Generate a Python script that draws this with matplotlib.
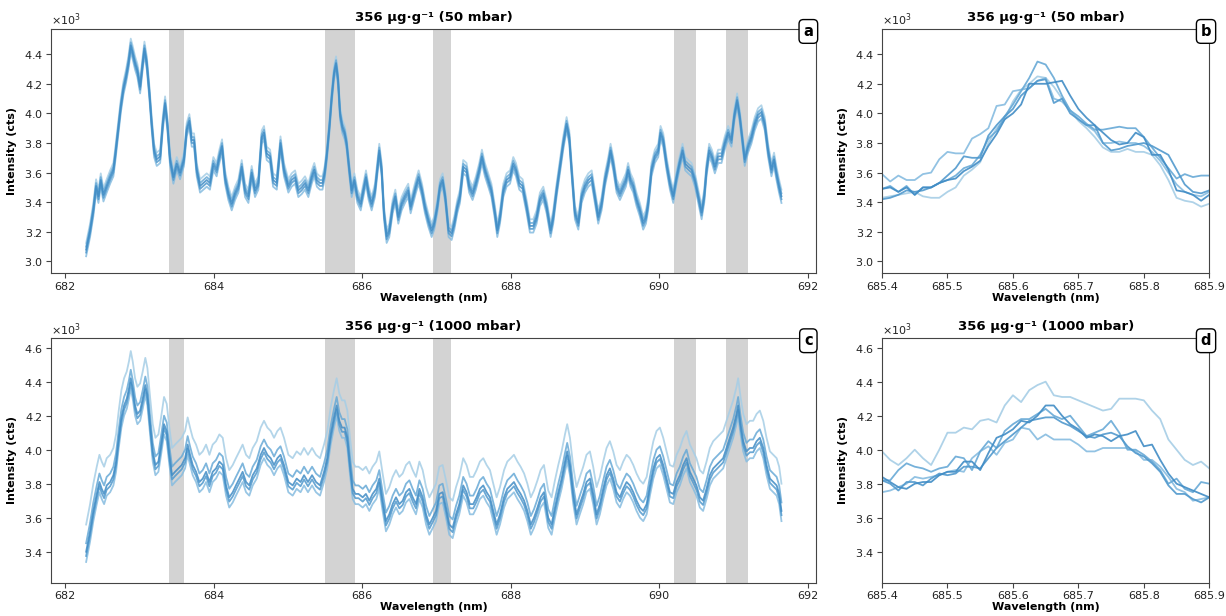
import numpy as np
import matplotlib
matplotlib.use("Agg")
import matplotlib.pyplot as plt

# ---------------- data (intensities in thousands of counts) ----------------
wl_a = [682.283, 682.336, 682.38, 682.417, 682.449, 682.48, 682.516, 682.56, 682.606, 682.65,
        682.673, 682.718, 682.75, 682.785, 682.82, 682.852, 682.884, 682.91, 682.942, 682.973,
        683.01, 683.04, 683.068, 683.10, 683.135, 683.166, 683.198, 683.234, 683.28, 683.315,
        683.346, 683.377, 683.413, 683.458, 683.503, 683.548, 683.60, 683.637, 683.673, 683.705,
        683.736, 683.772, 683.817, 683.862, 683.907, 683.95, 683.996, 684.04, 684.077, 684.113,
        684.153, 684.198, 684.243, 684.288, 684.333, 684.378, 684.423, 684.468, 684.512, 684.557,
        684.602, 684.647, 684.678, 684.714, 684.76, 684.80, 684.85, 684.90, 684.947, 685.006,
        685.05, 685.096, 685.14, 685.185, 685.23, 685.275, 685.32, 685.355, 685.39, 685.43,
        685.465, 685.495, 685.525, 685.558, 685.589, 685.62, 685.648, 685.675, 685.702, 685.733,
        685.764, 685.79, 685.827, 685.858, 685.894, 685.935, 685.98, 686.015, 686.051, 686.087,
        686.127, 686.172, 686.23, 686.262, 686.293, 686.329, 686.365, 686.41, 686.446, 686.486,
        686.531, 686.576, 686.62, 686.652, 686.688, 686.724, 686.76, 686.805, 686.845, 686.89,
        686.935, 686.97, 687.01, 687.047, 687.083, 687.118, 687.163, 687.204, 687.24, 687.28,
        687.316, 687.36, 687.405, 687.44, 687.486, 687.531, 687.576, 687.612, 687.652, 687.697,
        687.74, 687.787, 687.819, 687.855, 687.90, 687.944, 687.99, 688.034, 688.07, 688.115,
        688.16, 688.214, 688.258, 688.303, 688.348, 688.393, 688.438, 688.483, 688.537, 688.572,
        688.617, 688.662, 688.707, 688.752, 688.788, 688.82, 688.864, 688.91, 688.954, 688.999,
        689.044, 689.09, 689.133, 689.178, 689.223, 689.268, 689.313, 689.344, 689.38, 689.425,
        689.47, 689.514, 689.55, 689.58, 689.613, 689.65, 689.693, 689.738, 689.783, 689.82,
        689.85, 689.895, 689.94, 689.986, 690.017, 690.053, 690.098, 690.143, 690.188, 690.233,
        690.27, 690.313, 690.35, 690.39, 690.435, 690.48, 690.525, 690.57, 690.605, 690.636,
        690.672, 690.708, 690.748, 690.793, 690.838, 690.882, 690.927, 690.972, 691.008, 691.048,
        691.084, 691.12, 691.15, 691.196, 691.24, 691.285, 691.33, 691.375, 691.42, 691.465,
        691.51, 691.545, 691.576, 691.612, 691.645]
int_a = [3.08, 3.21, 3.35, 3.51, 3.44, 3.55, 3.45, 3.51, 3.57, 3.62,
         3.71, 3.91, 4.05, 4.17, 4.25, 4.34, 4.46, 4.41, 4.34, 4.29,
         4.18, 4.32, 4.44, 4.34, 4.14, 3.93, 3.75, 3.69, 3.71, 3.93,
         4.07, 3.93, 3.69, 3.57, 3.66, 3.60, 3.69, 3.89, 3.95, 3.82,
         3.82, 3.62, 3.51, 3.53, 3.55, 3.53, 3.66, 3.62, 3.71, 3.78,
         3.57, 3.46, 3.39, 3.46, 3.51, 3.64, 3.48, 3.44, 3.60, 3.48,
         3.53, 3.84, 3.87, 3.73, 3.71, 3.55, 3.53, 3.80, 3.62, 3.51,
         3.55, 3.57, 3.48, 3.50, 3.53, 3.48, 3.57, 3.62, 3.55, 3.53,
         3.53, 3.60, 3.73, 3.91, 4.11, 4.27, 4.34, 4.23, 4.00, 3.91,
         3.87, 3.80, 3.62, 3.48, 3.55, 3.44, 3.39, 3.48, 3.57, 3.46,
         3.39, 3.48, 3.75, 3.62, 3.33, 3.17, 3.21, 3.37, 3.44, 3.30,
         3.39, 3.44, 3.48, 3.37, 3.44, 3.51, 3.57, 3.48, 3.37, 3.28,
         3.21, 3.26, 3.37, 3.51, 3.55, 3.44, 3.21, 3.19, 3.26, 3.37,
         3.44, 3.64, 3.62, 3.51, 3.46, 3.53, 3.62, 3.71, 3.62, 3.55,
         3.48, 3.33, 3.21, 3.30, 3.48, 3.55, 3.57, 3.66, 3.62, 3.53,
         3.51, 3.37, 3.24, 3.24, 3.30, 3.42, 3.46, 3.37, 3.21, 3.30,
         3.48, 3.64, 3.80, 3.93, 3.84, 3.62, 3.33, 3.26, 3.44, 3.51,
         3.55, 3.57, 3.44, 3.30, 3.39, 3.55, 3.66, 3.75, 3.66, 3.51,
         3.46, 3.51, 3.55, 3.62, 3.55, 3.51, 3.42, 3.35, 3.26, 3.30,
         3.39, 3.62, 3.71, 3.75, 3.87, 3.82, 3.66, 3.53, 3.44, 3.57,
         3.66, 3.75, 3.66, 3.64, 3.62, 3.55, 3.44, 3.33, 3.44, 3.62,
         3.75, 3.71, 3.64, 3.71, 3.71, 3.80, 3.87, 3.82, 3.98, 4.09,
         3.98, 3.82, 3.69, 3.78, 3.84, 3.93, 3.99, 4.01, 3.93, 3.75,
         3.62, 3.69, 3.60, 3.51, 3.44]
offsets_a = [45, -45, 20, -20, 0]          # counts, replicate offsets (50 mbar)

wl_c = [682.283, 682.336, 682.38, 682.426, 682.462, 682.493, 682.525, 682.56, 682.606, 682.65,
        682.686, 682.722, 682.758, 682.794, 682.83, 682.86, 682.884, 682.91, 682.942, 682.973,
        683.01, 683.045, 683.08, 683.108, 683.144, 683.18, 683.216, 683.256, 683.292, 683.332,
        683.368, 683.404, 683.44, 683.48, 683.525, 683.57, 683.615, 683.65, 683.682, 683.718,
        683.763, 683.808, 683.853, 683.898, 683.943, 683.987, 684.032, 684.077, 684.122, 684.167,
        684.21, 684.257, 684.30, 684.346, 684.39, 684.436, 684.48, 684.526, 684.58, 684.633,
        684.678, 684.723, 684.768, 684.813, 684.858, 684.90, 684.947, 685.006, 685.064, 685.118,
        685.17, 685.217, 685.27, 685.325, 685.378, 685.432, 685.486, 685.53, 685.576, 685.62,
        685.656, 685.692, 685.728, 685.764, 685.80, 685.836, 685.872, 685.908, 685.95, 686.007,
        686.05, 686.096, 686.14, 686.19, 686.23, 686.275, 686.32, 686.365, 686.41, 686.455,
        686.50, 686.545, 686.59, 686.635, 686.68, 686.724, 686.77, 686.814, 686.86, 686.904,
        686.95, 686.994, 687.038, 687.083, 687.128, 687.173, 687.218, 687.263, 687.307, 687.36,
        687.405, 687.45, 687.495, 687.54, 687.585, 687.63, 687.675, 687.72, 687.765, 687.81,
        687.855, 687.91, 687.954, 688.0, 688.043, 688.09, 688.133, 688.18, 688.224, 688.27,
        688.313, 688.36, 688.402, 688.447, 688.505, 688.55, 688.595, 688.64, 688.685, 688.73,
        688.76, 688.797, 688.842, 688.886, 688.93, 688.976, 689.02, 689.066, 689.11, 689.156,
        689.2, 689.245, 689.29, 689.335, 689.38, 689.425, 689.47, 689.514, 689.56, 689.604,
        689.65, 689.694, 689.74, 689.784, 689.83, 689.874, 689.92, 689.963, 690.008, 690.053,
        690.098, 690.143, 690.188, 690.233, 690.277, 690.322, 690.367, 690.412, 690.457, 690.5,
        690.546, 690.59, 690.636, 690.681, 690.726, 690.77, 690.816, 690.86, 690.905, 690.95,
        690.995, 691.04, 691.062, 691.094, 691.13, 691.174, 691.22, 691.264, 691.31, 691.354,
        691.4, 691.444, 691.49, 691.534, 691.58, 691.614, 691.645]
int_c = [3.40, 3.52, 3.64, 3.74, 3.81, 3.77, 3.74, 3.79, 3.81, 3.85,
         3.93, 4.07, 4.19, 4.26, 4.30, 4.36, 4.42, 4.36, 4.26, 4.21,
         4.23, 4.30, 4.38, 4.32, 4.15, 3.99, 3.91, 3.93, 4.03, 4.15,
         4.11, 3.97, 3.85, 3.87, 3.89, 3.91, 3.95, 4.03, 3.97, 3.91,
         3.87, 3.81, 3.83, 3.87, 3.81, 3.87, 3.89, 3.93, 3.91, 3.79,
         3.72, 3.75, 3.79, 3.83, 3.87, 3.81, 3.79, 3.85, 3.89, 3.97,
         4.01, 3.97, 3.95, 3.91, 3.95, 3.97, 3.91, 3.81, 3.79, 3.83,
         3.81, 3.85, 3.81, 3.85, 3.81, 3.79, 3.87, 3.95, 4.09, 4.19,
         4.26, 4.17, 4.13, 4.13, 4.07, 3.91, 3.77, 3.74, 3.74, 3.72,
         3.74, 3.70, 3.74, 3.77, 3.83, 3.70, 3.58, 3.62, 3.68, 3.72,
         3.68, 3.70, 3.75, 3.77, 3.72, 3.68, 3.77, 3.72, 3.62, 3.56,
         3.60, 3.64, 3.74, 3.75, 3.66, 3.56, 3.54, 3.62, 3.68, 3.79,
         3.75, 3.68, 3.68, 3.72, 3.77, 3.79, 3.75, 3.72, 3.64, 3.56,
         3.62, 3.72, 3.77, 3.79, 3.81, 3.77, 3.74, 3.70, 3.64, 3.56,
         3.60, 3.66, 3.72, 3.75, 3.60, 3.56, 3.66, 3.75, 3.83, 3.93,
         3.99, 3.91, 3.74, 3.62, 3.68, 3.74, 3.81, 3.83, 3.74, 3.62,
         3.68, 3.77, 3.85, 3.89, 3.83, 3.75, 3.72, 3.77, 3.81, 3.79,
         3.75, 3.70, 3.66, 3.64, 3.68, 3.79, 3.89, 3.95, 3.97, 3.91,
         3.83, 3.75, 3.74, 3.81, 3.85, 3.91, 3.95, 3.87, 3.83, 3.79,
         3.72, 3.70, 3.77, 3.85, 3.89, 3.91, 3.93, 3.95, 4.01, 4.07,
         4.13, 4.21, 4.26, 4.15, 4.05, 3.99, 4.01, 4.01, 4.05, 4.07,
         4.01, 3.91, 3.83, 3.81, 3.79, 3.74, 3.64]
offsets_c = [160, -60, 50, -25, 0]         # counts, replicate offsets (1000 mbar)

wl_zoom = [685.4, 685.4125, 685.425, 685.4375, 685.45, 685.4625, 685.475, 685.4875, 685.5, 685.5125,
           685.525, 685.5375, 685.55, 685.5625, 685.575, 685.5875, 685.6, 685.6125, 685.625, 685.6375,
           685.65, 685.6625, 685.675, 685.6875, 685.7, 685.7125, 685.725, 685.7375, 685.75, 685.7625,
           685.775, 685.7875, 685.8, 685.8125, 685.825, 685.8375, 685.85, 685.8625, 685.875, 685.8875,
           685.9]
b_series = [
    [3.43, 3.44, 3.45, 3.46, 3.47, 3.44, 3.43, 3.43, 3.47, 3.50, 3.58, 3.62, 3.67, 3.80, 3.90, 3.96,
     4.08, 4.16, 4.20, 4.25, 4.24, 4.18, 4.10, 4.02, 3.95, 3.90, 3.84, 3.77, 3.74, 3.74, 3.76, 3.74,
     3.74, 3.72, 3.65, 3.55, 3.43, 3.41, 3.40, 3.37, 3.39],
    [3.59, 3.54, 3.58, 3.55, 3.55, 3.59, 3.60, 3.69, 3.74, 3.73, 3.73, 3.83, 3.86, 3.90, 4.05, 4.06,
     4.15, 4.16, 4.17, 4.22, 4.24, 4.10, 4.08, 4.02, 3.96, 3.92, 3.88, 3.80, 3.80, 3.81, 3.80, 3.80,
     3.78, 3.74, 3.68, 3.60, 3.52, 3.47, 3.45, 3.44, 3.47],
    [3.49, 3.51, 3.47, 3.51, 3.45, 3.50, 3.50, 3.53, 3.55, 3.58, 3.63, 3.65, 3.72, 3.83, 3.88, 3.98,
     4.06, 4.15, 4.24, 4.35, 4.33, 4.24, 4.12, 4.02, 3.98, 3.93, 3.89, 3.89, 3.90, 3.91, 3.90, 3.90,
     3.84, 3.77, 3.70, 3.63, 3.56, 3.59, 3.57, 3.58, 3.58],
    [3.42, 3.43, 3.45, 3.48, 3.47, 3.48, 3.50, 3.53, 3.58, 3.63, 3.71, 3.70, 3.70, 3.85, 3.92, 3.98,
     4.03, 4.12, 4.17, 4.22, 4.23, 4.07, 4.10, 4.00, 3.96, 3.92, 3.92, 3.80, 3.75, 3.76, 3.78, 3.79,
     3.80, 3.78, 3.75, 3.72, 3.62, 3.52, 3.47, 3.46, 3.48],
    [3.49, 3.50, 3.47, 3.50, 3.45, 3.50, 3.50, 3.53, 3.55, 3.56, 3.61, 3.64, 3.68, 3.78, 3.86, 3.96,
     4.00, 4.06, 4.20, 4.20, 4.20, 4.21, 4.22, 4.12, 4.03, 3.97, 3.92, 3.87, 3.82, 3.79, 3.80, 3.87,
     3.84, 3.72, 3.72, 3.62, 3.48, 3.47, 3.45, 3.41, 3.45],
]
d_series = [
    [3.99, 3.94, 3.91, 3.95, 4.00, 3.95, 3.91, 4.00, 4.10, 4.10, 4.13, 4.12, 4.17, 4.18, 4.16, 4.26,
     4.32, 4.28, 4.35, 4.38, 4.40, 4.32, 4.31, 4.31, 4.29, 4.27, 4.25, 4.23, 4.24, 4.30, 4.30, 4.30,
     4.29, 4.23, 4.18, 4.06, 4.00, 3.94, 3.91, 3.93, 3.89],
    [3.75, 3.76, 3.78, 3.80, 3.84, 3.83, 3.84, 3.85, 3.87, 3.88, 3.87, 3.95, 3.99, 4.02, 3.97, 4.04,
     4.06, 4.13, 4.12, 4.06, 4.09, 4.06, 4.06, 4.06, 4.03, 3.99, 3.99, 4.01, 4.01, 4.01, 4.01, 3.99,
     3.94, 3.94, 3.90, 3.84, 3.77, 3.75, 3.70, 3.71, 3.72],
    [3.82, 3.82, 3.88, 3.92, 3.90, 3.89, 3.87, 3.89, 3.90, 3.96, 3.95, 3.88, 3.99, 4.05, 4.01, 4.11,
     4.15, 4.18, 4.18, 4.21, 4.24, 4.20, 4.18, 4.20, 4.14, 4.08, 4.10, 4.12, 4.17, 4.10, 4.00, 4.00,
     3.97, 3.93, 3.88, 3.80, 3.83, 3.77, 3.75, 3.81, 3.80],
    [3.82, 3.80, 3.76, 3.81, 3.81, 3.79, 3.83, 3.86, 3.85, 3.86, 3.90, 3.90, 3.89, 3.95, 4.01, 4.05,
     4.09, 4.13, 4.17, 4.18, 4.19, 4.19, 4.16, 4.14, 4.11, 4.08, 4.07, 4.09, 4.10, 4.08, 4.02, 3.98,
     3.96, 3.92, 3.87, 3.79, 3.74, 3.74, 3.71, 3.69, 3.72],
    [3.84, 3.81, 3.78, 3.77, 3.80, 3.81, 3.81, 3.85, 3.87, 3.87, 3.93, 3.93, 3.88, 3.98, 4.07, 4.09,
     4.12, 4.17, 4.16, 4.20, 4.26, 4.26, 4.20, 4.15, 4.12, 4.07, 4.09, 4.08, 4.05, 4.08, 4.09, 4.11,
     4.02, 4.03, 3.94, 3.86, 3.80, 3.78, 3.76, 3.74, 3.72],
]
shaded_bands = [(683.4, 683.6), (685.5, 685.9), (686.95, 687.2), (690.2, 690.5), (690.9, 691.2)]
titles = ["356 µg·g⁻¹ (50 mbar)", "356 µg·g⁻¹ (50 mbar)", "356 µg·g⁻¹ (1000 mbar)", "356 µg·g⁻¹ (1000 mbar)"]
panel_letters = ["a", "b", "c", "d"]
line_colors = ["#a6cee6", "#86bce0", "#67a9d6", "#5199cd", "#408cc5"]

# ---------------- figure ----------------
fig = plt.figure(figsize=(12.26, 6.16), dpi=100)
W, H = 1226, 616
def add_ax(l, r, t, b):
    return fig.add_axes([l / W, 1 - b / H, (r - l) / W, (b - t) / H])

ax_a = add_ax(51, 816, 29, 273.3)
ax_b = add_ax(882, 1209.3, 29, 273.3)
ax_c = add_ax(51, 816, 338.3, 582.7)
ax_d = add_ax(882, 1209.3, 338.3, 582.7)
axes = [ax_a, ax_b, ax_c, ax_d]

spine_col = "#444444"

def style(ax, title, letter):
    ax.set_title(title, fontsize=9.5, fontweight="bold", pad=6)
    ax.set_xlabel("Wavelength (nm)", fontsize=8, fontweight="bold", labelpad=1)
    ax.set_ylabel("Intensity (cts)", fontsize=8, fontweight="bold", labelpad=5)
    ax.tick_params(labelsize=8, colors="#222222", pad=2.5, length=3.5, color=spine_col)
    for s in ax.spines.values():
        s.set_color(spine_col)
    ax.ticklabel_format(axis="y", style="sci", scilimits=(3, 3), useMathText=True)
    ax.yaxis.get_offset_text().set_fontsize(8)
    ax.yaxis.get_offset_text().set_color("#222222")
    ax.text(0.99, 0.99, letter, transform=ax.transAxes, ha="center", va="center",
            fontsize=10.5, fontweight="bold", zorder=10,
            bbox=dict(boxstyle="round,pad=0.3", fc="white", ec="black", lw=1.0))

# full spectra
for ax, wl, base, offs in [(ax_a, wl_a, int_a, offsets_a), (ax_c, wl_c, int_c, offsets_c)]:
    for lo, hi in shaded_bands:
        ax.axvspan(lo, hi, color="#d3d3d3", lw=0, zorder=0)
    b = np.array(base) * 1000
    for off, col in zip(offs, line_colors):
        ax.plot(wl, b + off, color=col, lw=1.3, alpha=0.85, zorder=2)
    ax.set_xlim(681.81, 692.11)
    ax.set_xticks([682, 684, 686, 688, 690, 692])

ax_a.set_ylim(2920, 4570)
ax_a.set_yticks(np.arange(3000, 4401, 200))
ax_c.set_ylim(3218, 4655)
ax_c.set_yticks(np.arange(3400, 4601, 200))

# zoomed spectra
for ax, series, ylim, yt in [(ax_b, b_series, (2920, 4570), np.arange(3000, 4401, 200)),
                             (ax_d, d_series, (3218, 4655), np.arange(3400, 4601, 200))]:
    for s, col in zip(series, line_colors):
        ax.plot(wl_zoom, np.array(s) * 1000, color=col, lw=1.3, alpha=0.9)
    ax.set_xlim(685.4, 685.9)
    ax.set_xticks([685.4, 685.5, 685.6, 685.7, 685.8, 685.9])
    ax.set_ylim(*ylim)
    ax.set_yticks(yt)

for ax, t, l in zip(axes, titles, panel_letters):
    style(ax, t, l)

fig.savefig("out.png", dpi=100)
